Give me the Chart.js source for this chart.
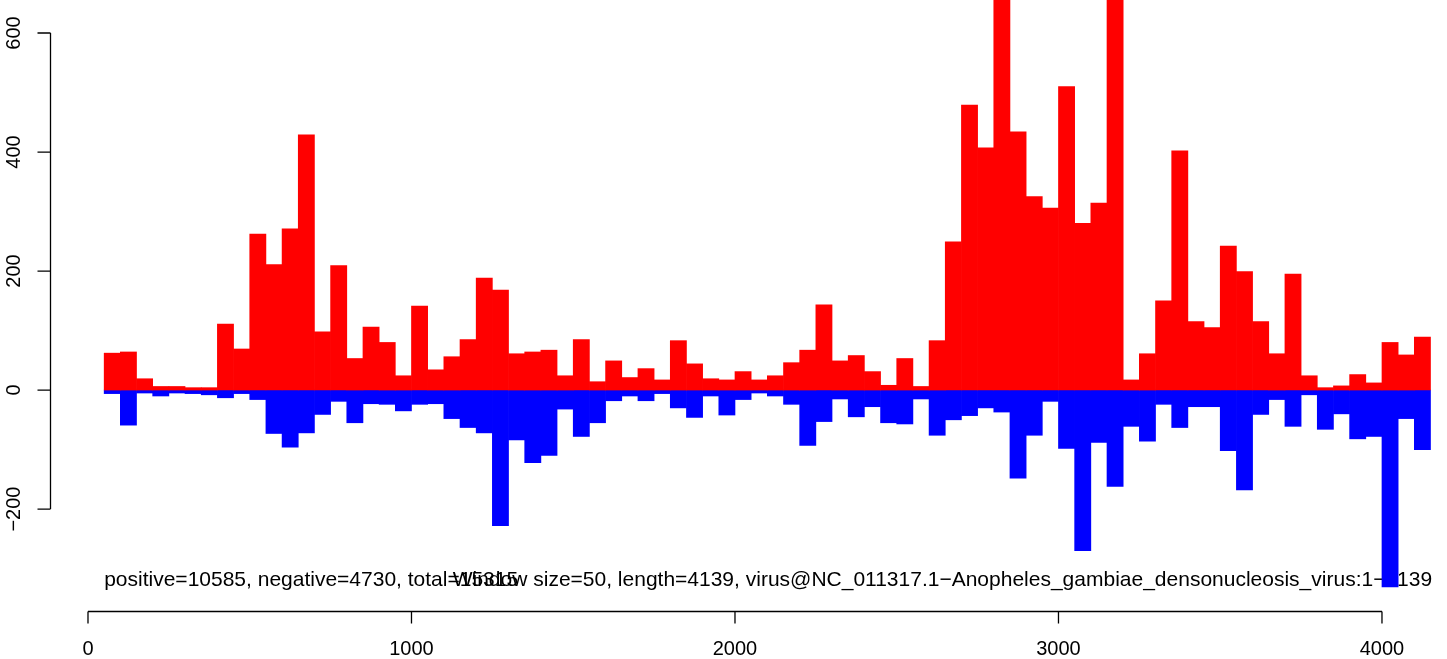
<!DOCTYPE html>
<html>
<head>
<meta charset="utf-8">
<script src="https://cdn.jsdelivr.net/npm/chart.js@4"></script>
<style>
  html, body { margin: 0; padding: 0; background: #fff; }
  #wrap { width: 1447px; height: 659px; }
</style>
</head>
<body>
<div id="wrap"><canvas id="chart"></canvas></div>
<script>
// window size 50, one bar per window
const windowSize = 50;
const positive = [62, 64, 19, 6, 6, 4, 4, 111, 69, 262, 211, 271, 429, 98, 209, 53, 106, 80, 24, 141,
  34, 56, 85, 188, 168, 61, 64, 67, 24, 85, 14, 49, 21, 36, 17, 83, 44, 19, 17, 31,
  17, 24, 46, 67, 143, 49, 58, 31, 8, 53, 6, 83, 249, 479, 407, 665, 434, 325, 306, 510,
  280, 314, 676, 17, 61, 150, 402, 115, 105, 242, 199, 115, 61, 195, 24, 4, 7, 26, 12, 80,
  59, 89];
const negative = [-6, -59, -5, -10, -5, -6, -8, -13, -6, -16, -73, -96, -72, -41, -19, -55, -23, -24, -35, -24,
  -23, -48, -63, -72, -228, -84, -122, -110, -32, -78, -55, -18, -10, -18, -6, -30, -46, -10, -42, -16,
  -5, -10, -24, -93, -53, -15, -45, -28, -55, -57, -15, -76, -50, -43, -30, -37, -148, -76, -19, -98,
  -270, -88, -162, -61, -86, -24, -63, -28, -28, -102, -168, -41, -16, -61, -8, -66, -40, -82, -78, -331,
  -48, -100];
const xTicks = [0, 1000, 2000, 3000, 4000];
const yTicks = [-200, 0, 200, 400, 600];
const noteLeft = 'positive=10585, negative=4730, total=15315';
const noteRight = 'Window size=50, length=4139, virus@NC_011317.1\u2212Anopheles_gambiae_densonucleosis_virus:1\u22124139';

const centers = positive.map((_, i) => windowSize * (i + 1) + windowSize / 2);

const TICK_FONT = '20px "Liberation Sans", Arial, sans-serif';
const NOTE_FONT = '21px "Liberation Sans", Arial, sans-serif';

// text goes under the bars, like in the original
const notesPlugin = {
  id: 'notes',
  beforeDatasetsDraw(chart) {
    const ctx = chart.ctx;
    const x = chart.scales.x, y = chart.scales.y;
    ctx.save();
    ctx.fillStyle = '#000';
    ctx.font = NOTE_FONT;
    ctx.textBaseline = 'middle';
    const ty = y.getPixelForValue(-320);
    ctx.textAlign = 'left';
    ctx.fillText(noteLeft, x.getPixelForValue(50), ty);
    ctx.textAlign = 'right';
    ctx.fillText(noteRight, x.getPixelForValue(4155), ty);
    ctx.restore();
  }
};

// R style axes: line only between first and last tick
const axesPlugin = {
  id: 'raxes',
  afterDraw(chart) {
    const ctx = chart.ctx;
    const x = chart.scales.x, y = chart.scales.y;
    ctx.save();
    ctx.strokeStyle = '#000';
    ctx.lineWidth = 1.3;
    ctx.fillStyle = '#000';
    ctx.font = TICK_FONT;

    // x axis
    const ax = 611.5;
    ctx.beginPath();
    ctx.moveTo(x.getPixelForValue(xTicks[0]), ax);
    ctx.lineTo(x.getPixelForValue(xTicks[xTicks.length - 1]), ax);
    xTicks.forEach(t => {
      const px = x.getPixelForValue(t);
      ctx.moveTo(px, ax);
      ctx.lineTo(px, ax + 12);
    });
    ctx.stroke();
    ctx.textAlign = 'center';
    ctx.textBaseline = 'middle';
    xTicks.forEach(t => ctx.fillText(String(t), x.getPixelForValue(t), 649));

    // y axis
    const ay = 50.5;
    ctx.beginPath();
    ctx.moveTo(ay, y.getPixelForValue(yTicks[0]));
    ctx.lineTo(ay, y.getPixelForValue(yTicks[yTicks.length - 1]));
    yTicks.forEach(t => {
      const py = y.getPixelForValue(t);
      ctx.moveTo(ay, py);
      ctx.lineTo(ay - 13, py);
    });
    ctx.stroke();
    yTicks.forEach(t => {
      const py = y.getPixelForValue(t);
      ctx.save();
      ctx.translate(14, py);
      ctx.rotate(-Math.PI / 2);
      ctx.fillText(t < 0 ? '\u2212' + Math.abs(t) : String(t), 0, 0);
      ctx.restore();
    });
    ctx.restore();
  }
};

new Chart(document.getElementById('chart').getContext('2d'), {
  type: 'bar',
  data: {
    datasets: [{
      label: 'positive',
      data: centers.map((c, i) => ({ x: c, y: positive[i] })),
      backgroundColor: '#ff0000',
      borderWidth: 0,
      barPercentage: 1,
      categoryPercentage: 1
    }, {
      label: 'negative',
      data: centers.map((c, i) => ({ x: c, y: negative[i] })),
      backgroundColor: '#0000ff',
      borderWidth: 0,
      barPercentage: 1,
      categoryPercentage: 1
    }]
  },
  options: {
    responsive: true,
    maintainAspectRatio: false,
    animation: false,
    layout: { padding: 0 },
    plugins: {
      legend: { display: false },
      tooltip: { enabled: false }
    },
    scales: {
      x: {
        type: 'linear',
        stacked: true,
        display: false,
        offset: false,
        min: -272,
        max: 4201
      },
      y: {
        stacked: true,
        display: false,
        min: -452,
        max: 655.5
      }
    }
  },
  plugins: [notesPlugin, axesPlugin]
});
</script>
</body>
</html>
